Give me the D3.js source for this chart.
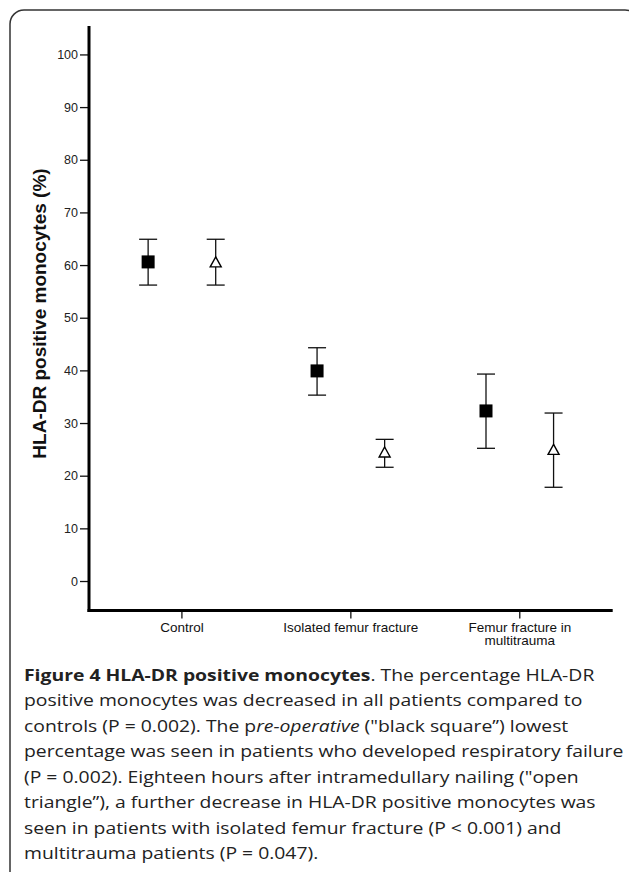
<!DOCTYPE html>
<html>
<head>
<meta charset="utf-8">
<script src="https://cdn.jsdelivr.net/npm/d3@7"></script>
<style>
  html, body { margin: 0; padding: 0; background: #fff; }
  svg { display: block; }
</style>
</head>
<body>
<div id="chart"></div>
<script>
// ---------- data ----------
const categories = ["Control", "Isolated femur fracture", "Femur fracture in multitrauma"];
const categoryLabelLines = [["Control"], ["Isolated femur fracture"], ["Femur fracture in", "multitrauma"]];
const preOpMean  = [60.6, 39.9, 32.3];   // black square
const preOpLow   = [56.2, 35.3, 25.2];
const preOpHigh  = [64.9, 44.3, 39.3];
const postOpMean = [60.6, 24.5, 25.0];   // open triangle
const postOpLow  = [56.2, 21.6, 17.8];
const postOpHigh = [64.9, 26.9, 31.9];
const yTicks = [0, 10, 20, 30, 40, 50, 60, 70, 80, 90, 100];
const yTitle = "HLA-DR positive monocytes (%)";
const captionLines = [
  [{t:"Figure 4 HLA-DR positive monocytes", w:"bold"}, {t:". The percentage HLA-DR"}],
  [{t:"positive monocytes was decreased in all patients compared to"}],
  [{t:"controls (P = 0.002). The p"}, {t:"re-operative", i:true}, {t:" (\"black square\u201D) lowest"}],
  [{t:"percentage was seen in patients who developed respiratory failure"}],
  [{t:"(P = 0.002). Eighteen hours after intramedullary nailing (\"open"}],
  [{t:"triangle\u201D), a further decrease in HLA-DR positive monocytes was"}],
  [{t:"seen in patients with isolated femur fracture (P < 0.001) and"}],
  [{t:"multitrauma patients (P = 0.047)."}]
];

// ---------- layout ----------
const W = 629, H = 872;
const svg = d3.select("#chart").append("svg").attr("width", W).attr("height", H);
svg.append("rect").attr("width", W).attr("height", H).attr("fill", "#fff");

// frame
svg.append("rect").attr("x", 10).attr("y", 10).attr("width", 629).attr("height", 900)
  .attr("rx", 14).attr("ry", 14).attr("fill", "none").attr("stroke", "#333").attr("stroke-width", 1.5);

const axisX = 89, axisBottom = 610.5;
const y = d3.scaleLinear().domain([-5.6, 105.4]).range([axisBottom, 26]);
const x = d3.scaleLinear().domain([0.45, 3.55]).range([axisX, 612.7]);
const off = 0.2;

// y axis ticks + labels
const yAxis = d3.axisLeft(y).tickValues(yTicks).tickSize(9).tickPadding(2).tickFormat(d3.format("d"));
const gy = svg.append("g").attr("transform", `translate(${axisX},0)`).call(yAxis);
gy.select(".domain").remove();
gy.selectAll(".tick line").attr("stroke", "#111").attr("stroke-width", 1.3);
gy.selectAll(".tick text").attr("font-family", "Liberation Sans, Arial, sans-serif")
  .attr("font-size", 12.5).attr("fill", "#222");

// x axis ticks + labels
const gx = svg.append("g");
categories.forEach((c, i) => {
  const cx = x(i + 1);
  gx.append("line").attr("x1", cx).attr("x2", cx).attr("y1", axisBottom + 1).attr("y2", axisBottom + 8)
    .attr("stroke", "#111").attr("stroke-width", 1.3);
  const t = gx.append("text").attr("text-anchor", "middle")
    .attr("font-family", "Liberation Sans, Arial, sans-serif").attr("font-size", 13.5).attr("fill", "#111");
  categoryLabelLines[i].forEach((ln, k) => {
    t.append("tspan").attr("x", cx).attr("y", 631.5 + k * 13.6).text(ln);
  });
});

// axis lines
svg.append("line").attr("x1", axisX).attr("x2", axisX).attr("y1", y.range()[1]).attr("y2", axisBottom + 1.5)
  .attr("stroke", "#000").attr("stroke-width", 3);
svg.append("line").attr("x1", axisX - 1.5).attr("x2", x.range()[1]).attr("y1", axisBottom).attr("y2", axisBottom)
  .attr("stroke", "#000").attr("stroke-width", 3);

// y title
svg.append("text").attr("transform", `translate(46,313.5) rotate(-90)`).attr("text-anchor", "middle")
  .attr("font-family", "Liberation Sans, Arial, sans-serif").attr("font-size", 19).attr("font-weight", "bold")
  .attr("fill", "#111").text(yTitle);

// error bars
function errorBars(means, lows, highs, shift) {
  const g = svg.append("g").attr("stroke", "#111").attr("stroke-width", 1.3);
  means.forEach((m, i) => {
    const cx = x(i + 1 + shift);
    g.append("line").attr("x1", cx).attr("x2", cx).attr("y1", y(highs[i])).attr("y2", y(lows[i]));
    g.append("line").attr("x1", cx - 9).attr("x2", cx + 9).attr("y1", y(highs[i])).attr("y2", y(highs[i]));
    g.append("line").attr("x1", cx - 9).attr("x2", cx + 9).attr("y1", y(lows[i])).attr("y2", y(lows[i]));
  });
}
errorBars(preOpMean, preOpLow, preOpHigh, -off);
errorBars(postOpMean, postOpLow, postOpHigh, off);

// squares
svg.append("g").selectAll("rect").data(preOpMean).join("rect")
  .attr("x", (d, i) => x(i + 1 - off) - 6.5).attr("y", d => y(d) - 6.5)
  .attr("width", 13).attr("height", 13).attr("fill", "#000");

// triangles
svg.append("g").selectAll("path").data(postOpMean).join("path")
  .attr("d", (d, i) => {
    const cx = x(i + 1 + off), cy = y(d);
    return `M${cx},${cy - 5}L${cx + 5.5},${cy + 5}L${cx - 5.5},${cy + 5}Z`;
  })
  .attr("fill", "#fff").attr("stroke", "#000").attr("stroke-width", 1.4).attr("stroke-linejoin", "miter");

// caption
const capX = 24, capMaxW = 600, capY0 = 680.5, capDy = 25.5;
const capG = svg.append("g");
const capTexts = captionLines.map((segs, k) => {
  const t = capG.append("text").attr("font-family", "Open Sans, sans-serif").attr("font-size", 16.5)
    .attr("fill", "#222");
  segs.forEach(s => {
    const ts = t.append("tspan").text(s.t);
    if (s.w) ts.attr("font-weight", s.w);
    if (s.i) ts.attr("font-style", "italic");
  });
  return t;
});
const wMax = d3.max(capTexts, t => t.node().getComputedTextLength());
const sx = capMaxW / wMax;
capTexts.forEach((t, k) => t.attr("transform", `translate(${capX},${capY0 + k * capDy}) scale(${sx},1)`));
</script>
</body>
</html>
